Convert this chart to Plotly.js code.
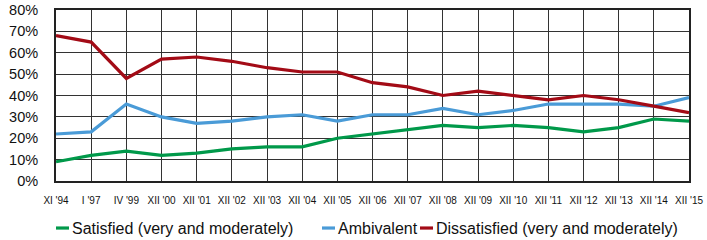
<!DOCTYPE html>
<html>
<head>
<meta charset="utf-8">
<script src="https://cdn.plot.ly/plotly-3.0.1.min.js"></script>
<style>html,body{margin:0;padding:0;background:#fff}#chart{width:707px;height:240px}</style>
</head>
<body>
<div id="chart"></div>
<script>
const categories = ["XI '94","I '97","IV '99","XII '00","XII '01","XII '02","XII '03","XII '04","XII '05","XII '06","XII '07","XII '08","XII '09","XII '10","XII '11","XII '12","XII '13","XII '14","XII '15"];
const satisfied   = [9, 12, 14, 12, 13, 15, 16, 16, 20, 22, 24, 26, 25, 26, 25, 23, 25, 29, 28];
const ambivalent  = [22, 23, 36, 30, 27, 28, 30, 31, 28, 31, 31, 34, 31, 33, 36, 36, 36, 35, 39];
const dissatisfied= [68, 65, 48, 57, 58, 56, 53, 51, 51, 46, 44, 40, 42, 40, 38, 40, 38, 35, 32];
const seriesNames = ["Satisfied (very and moderately)", "Ambivalent", "Dissatisfied (very and moderately)"];
const yTickVals = [0,10,20,30,40,50,60,70,80];
const yTickText = ["0%","10%","20%","30%","40%","50%","60%","70%","80%"];

const colors = ["#00994a", "#4a9bd7", "#a30b16"];
const xIdx = categories.map((c,i)=>i);
const series = [satisfied, ambivalent, dissatisfied];
const traces = series.map((s,k)=>({
  x: xIdx, y: s, type: 'scatter', mode: 'lines', name: seriesNames[k],
  line: {color: colors[k], width: 3.2}, showlegend: false, hoverinfo: 'skip'
}));

// custom legend
const legY = -0.275;
const shapes = [];
const annotations = [];
const plotW = 707 - 56 - 18;
const legPx = [56, 322, 420];
legPx.forEach((px,k)=>{
  const x0 = (px - 56)/plotW, x1 = (px + 13 - 56)/plotW;
  shapes.push({type:'line', xref:'paper', yref:'paper', x0:x0, x1:x1, y0:legY, y1:legY,
    line:{color:colors[k], width:3.2}});
  annotations.push({xref:'paper', yref:'paper', x:(px + 14 - 56)/plotW, y:legY, xanchor:'left', yanchor:'middle',
    text: seriesNames[k], showarrow:false, font:{family:'Liberation Sans, Arial, sans-serif', size:16, color:'#111'}});
});

const layout = {
  width: 707, height: 240,
  margin: {l: 56, r: 18, t: 10, b: 59},
  paper_bgcolor: '#fff', plot_bgcolor: '#fff',
  showlegend: false,
  xaxis: {
    range: [0, categories.length - 1],
    tickvals: xIdx, ticktext: categories,
    tickfont: {family: 'Liberation Sans, Arial, sans-serif', size: 10, color: '#111'},
    ticklabelstandoff: 9,
    showgrid: true, gridcolor: '#333', gridwidth: 1,
    showline: true, linecolor: '#222', linewidth: 2, mirror: true,
    ticks: '', ticklen: 0, zeroline: false, fixedrange: true
  },
  yaxis: {
    range: [0, 80],
    tickvals: yTickVals, ticktext: yTickText,
    tickfont: {family: 'Liberation Sans, Arial, sans-serif', size: 14.5, color: '#111'},
    ticklabelstandoff: 13,
    showgrid: true, gridcolor: '#333', gridwidth: 1,
    showline: true, linecolor: '#222', linewidth: 2, mirror: true,
    ticks: '', zeroline: false, fixedrange: true
  },
  shapes: shapes,
  annotations: annotations
};

Plotly.newPlot('chart', traces, layout, {staticPlot: true, displayModeBar: false});
</script>
</body>
</html>
